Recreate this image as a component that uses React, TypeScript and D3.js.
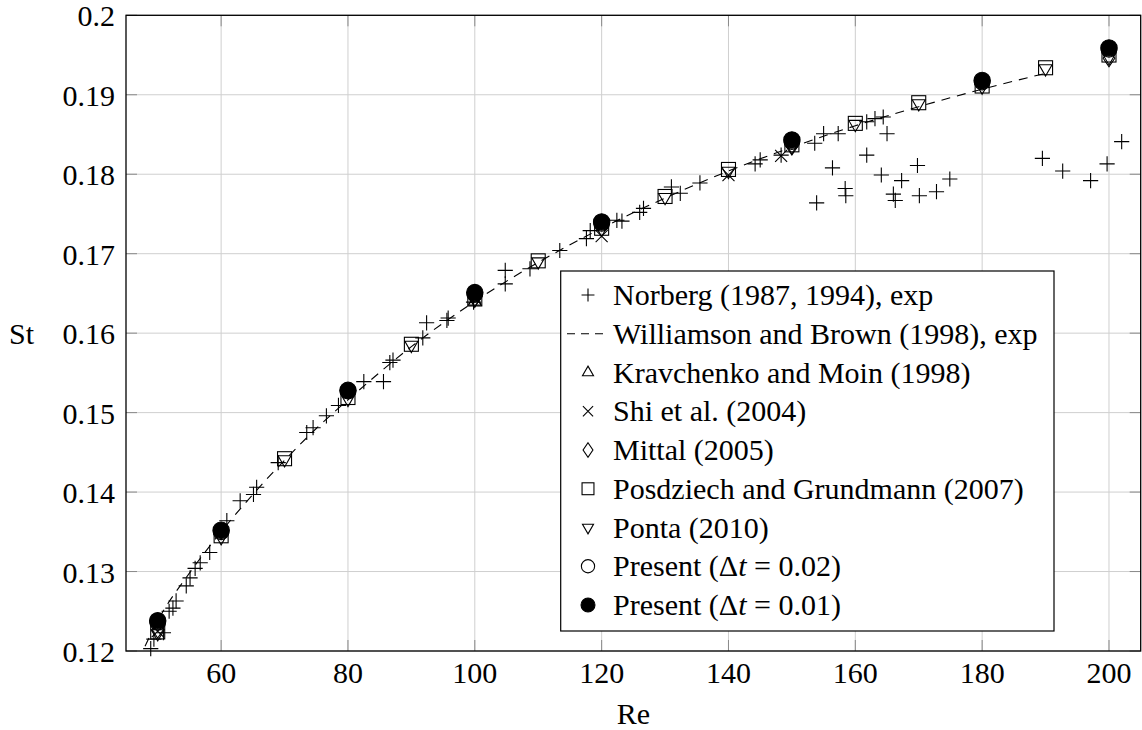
import React from "react";
import * as d3 from "d3";

// ---- Data ----
const norbergRe = [48.9, 49.4, 50.9, 51.8, 52.4, 52.9, 54.5, 55.1, 55.9, 56.7, 58.2, 60.9, 63.0, 65.1, 65.6, 69.0, 73.5, 74.5, 76.6, 78.5, 82.5, 85.6, 86.6, 87.1, 91.8, 92.4, 95.6, 95.8, 99.8, 104.8, 104.8, 108.7, 113.4, 117.6, 118.2, 122.4, 123.2, 126.0, 126.6, 131.0, 132.4, 135.5, 144.2, 145.0, 148.3, 153.6, 155.0, 157.3, 161.8, 163.1, 164.4, 165.0, 161.8, 156.4, 158.4, 158.5, 153.9, 164.1, 167.3, 166.0, 166.3, 169.8, 170.1, 172.8, 174.9, 189.5, 192.7, 197.1, 199.7, 202.0];
const norbergSt = [0.1203, 0.1215, 0.1223, 0.1250, 0.1254, 0.1263, 0.1282, 0.1292, 0.1304, 0.1311, 0.1324, 0.1364, 0.1389, 0.1397, 0.1406, 0.1437, 0.1475, 0.1481, 0.1496, 0.1509, 0.1539, 0.1539, 0.1563, 0.1566, 0.1594, 0.1613, 0.1616, 0.1619, 0.1639, 0.1679, 0.1662, 0.1681, 0.1704, 0.1719, 0.1729, 0.1742, 0.1741, 0.1752, 0.1757, 0.1784, 0.1776, 0.1789, 0.1813, 0.1818, 0.1824, 0.1839, 0.1851, 0.1851, 0.1866, 0.1870, 0.1872, 0.1851, 0.1824, 0.1808, 0.1782, 0.1773, 0.1764, 0.1799, 0.1792, 0.1775, 0.1767, 0.1811, 0.1773, 0.1778, 0.1794, 0.1820, 0.1804, 0.1792, 0.1813, 0.1841];

const williamsonRe = [48, 50, 55, 60, 65, 70, 75, 80, 90, 100, 110, 120, 130, 140, 150, 160, 170, 180, 190];
const williamsonSt = [0.1206, 0.1238, 0.1298, 0.1350, 0.1397, 0.1440, 0.1480, 0.1516, 0.1583, 0.1640, 0.1689, 0.1732, 0.1770, 0.1804, 0.1834, 0.1861, 0.1885, 0.1907, 0.1927];

const kravchenkoRe = [100];
const kravchenkoSt = [0.1640];

const shiRe = [50, 100, 120, 140, 148.3];
const shiSt = [0.1225, 0.1644, 0.1722, 0.1799, 0.1823];

const mittalRe = [50, 100, 150, 200];
const mittalSt = [0.1227, 0.1644, 0.1835, 0.1946];

const posdziechRe = [50, 60, 70, 80, 90, 100, 110, 120, 130, 140, 150, 160, 170, 180, 190, 200];
const posdziechSt = [0.1224, 0.1345, 0.1442, 0.1519, 0.1586, 0.1643, 0.1691, 0.1732, 0.1772, 0.1806, 0.1837, 0.1864, 0.1890, 0.1911, 0.1934, 0.1950];

const pontaRe = [50, 60, 70, 80, 90, 100, 110, 120, 130, 140, 150, 160, 170, 180, 190, 200];
const pontaSt = [0.1222, 0.1343, 0.1441, 0.1517, 0.1585, 0.1642, 0.1690, 0.1731, 0.1771, 0.1804, 0.1835, 0.1863, 0.1889, 0.1910, 0.1933, 0.1947];

const present02Re = [50, 60, 80, 100, 120, 150, 180, 200];
const present02St = [0.1236, 0.1350, 0.1527, 0.1649, 0.1738, 0.1841, 0.1916, 0.1957];

const present01Re = [50, 60, 80, 100, 120, 150, 180, 200];
const present01St = [0.1238, 0.1352, 0.1528, 0.1651, 0.1740, 0.1843, 0.1918, 0.1959];

const xTicks = [60, 80, 100, 120, 140, 160, 180, 200];
const yTicks = [0.12, 0.13, 0.14, 0.15, 0.16, 0.17, 0.18, 0.19, 0.2];
const yTickLabels = ["0.12", "0.13", "0.14", "0.15", "0.16", "0.17", "0.18", "0.19", "0.2"];

const legendLabels = [
  "Norberg (1987, 1994), exp",
  "Williamson and Brown (1998), exp",
  "Kravchenko and Moin (1998)",
  "Shi et al. (2004)",
  "Mittal (2005)",
  "Posdziech and Grundmann (2007)",
  "Ponta (2010)",
  "Present",
  "Present",
];

// ---- Layout ----
const W = 1142;
const H = 730;
const L = 126;
const R = 1140.7;
const T = 15.3;
const B = 651;
const FONT = '"Liberation Serif", "DejaVu Serif", "Noto Serif", FreeSerif, "Nimbus Roman", Tinos, serif';

const x = d3.scaleLinear().domain([45, 205]).range([L, R]);
const y = d3.scaleLinear().domain([0.12, 0.2]).range([B, T]);

type MType = "plus" | "times" | "tri" | "dia" | "sq" | "tridown" | "circ" | "fcirc";

function Marker({ t, cx, cy, s = 1 }: { t: MType; cx: number; cy: number; s?: number }) {
  const sw = 1.1;
  const common = { stroke: "#000", strokeWidth: sw, fill: "none" } as any;
  if (t === "plus") {
    const h = 7.6 * s;
    return <path d={`M${cx - h},${cy}H${cx + h}M${cx},${cy - h}V${cy + h}`} {...common} />;
  }
  if (t === "times") {
    const h = 6 * s;
    return <path d={`M${cx - h},${cy - h}L${cx + h},${cy + h}M${cx - h},${cy + h}L${cx + h},${cy - h}`} {...common} />;
  }
  if (t === "tri") {
    const r = 7.5 * s;
    return <path d={`M${cx},${cy - r}L${cx + 0.866 * r},${cy + 0.5 * r}L${cx - 0.866 * r},${cy + 0.5 * r}Z`} {...common} />;
  }
  if (t === "tridown") {
    const r = 7.5 * s;
    return <path d={`M${cx},${cy + r}L${cx + 0.866 * r},${cy - 0.5 * r}L${cx - 0.866 * r},${cy - 0.5 * r}Z`} {...common} />;
  }
  if (t === "dia") {
    const hw = 5.8 * s, hh = 8.5 * s;
    return <path d={`M${cx},${cy - hh}L${cx + hw},${cy}L${cx},${cy + hh}L${cx - hw},${cy}Z`} {...common} />;
  }
  if (t === "sq") {
    const h = 7 * s;
    return <rect x={cx - h} y={cy - h} width={2 * h} height={2 * h} {...common} />;
  }
  if (t === "circ") {
    return <circle cx={cx} cy={cy} r={7.8 * s} {...common} />;
  }
  return <circle cx={cx} cy={cy} r={8.2 * s} fill="#000" stroke="#000" strokeWidth={sw} />;
}

function Series({ re, st, t }: { re: number[]; st: number[]; t: MType }) {
  return (
    <g>
      {re.map((r, i) => (
        <Marker key={i} t={t} cx={x(r)} cy={y(st[i])} />
      ))}
    </g>
  );
}

export default function App() {
  const line = d3
    .line<number>()
    .x((d) => x(d))
    .y((_, i) => y(williamsonSt[i]))
    .curve(d3.curveMonotoneX);
  const legendTypes: (MType | "line")[] = ["plus", "line", "tri", "times", "dia", "sq", "tridown", "circ", "fcirc"];
  const LX = 560.7, LY = 271, LW = 493.3, LH = 360;
  const rowBase = (i: number) => 305 + i * 38.75;
  const tick = 11;
  const ts = { fontFamily: FONT } as React.CSSProperties;
  return (
    <svg width={W} height={H} style={{ position: "absolute", left: 0, top: 0, background: "#fff", fontFamily: FONT }}>
      <rect x={0} y={0} width={W} height={H} fill="#fff" />
      {/* grid */}
      <g stroke="#cfcfcf" strokeWidth={1}>
        {xTicks.map((v) => (
          <line key={"gx" + v} x1={x(v)} x2={x(v)} y1={T} y2={B} />
        ))}
        {yTicks.map((v) => (
          <line key={"gy" + v} x1={L} x2={R} y1={y(v)} y2={y(v)} />
        ))}
      </g>
      {/* ticks */}
      <g stroke="#8a8a8a" strokeWidth={1}>
        {xTicks.map((v) => (
          <g key={"tx" + v}>
            <line x1={x(v)} x2={x(v)} y1={B} y2={B - tick} />
            <line x1={x(v)} x2={x(v)} y1={T} y2={T + tick} />
          </g>
        ))}
        {yTicks.map((v) => (
          <g key={"ty" + v}>
            <line x1={L} x2={L + tick} y1={y(v)} y2={y(v)} />
            <line x1={R} x2={R - tick} y1={y(v)} y2={y(v)} />
          </g>
        ))}
      </g>
      {/* Williamson dashed line */}
      <path d={line(williamsonRe) || ""} fill="none" stroke="#000" strokeWidth={1.1} strokeDasharray="9,7" />
      <Series re={norbergRe} st={norbergSt} t="plus" />
      <Series re={kravchenkoRe} st={kravchenkoSt} t="tri" />
      <Series re={shiRe} st={shiSt} t="times" />
      <Series re={mittalRe} st={mittalSt} t="dia" />
      <Series re={posdziechRe} st={posdziechSt} t="sq" />
      <Series re={pontaRe} st={pontaSt} t="tridown" />
      <Series re={present02Re} st={present02St} t="circ" />
      <Series re={present01Re} st={present01St} t="fcirc" />
      {/* frame */}
      <rect x={L} y={T} width={R - L} height={B - T} fill="none" stroke="#000" strokeWidth={1.3} />
      {/* tick labels */}
      <g fontSize={30} fill="#000">
        {xTicks.map((v) => (
          <text key={"lx" + v} x={x(v)} y={683} textAnchor="middle" style={ts}>
            {v}
          </text>
        ))}
        {yTicks.map((v, i) => (
          <text key={"ly" + v} x={115} y={y(v) + 11} textAnchor="end" style={ts}>
            {yTickLabels[i]}
          </text>
        ))}
      </g>
      <text x={(L + R) / 2} y={724} fontSize={30} textAnchor="middle" style={ts}>Re</text>
      <text x={9} y={344} fontSize={30} style={ts}>St</text>
      {/* legend */}
      <rect x={LX} y={LY} width={LW} height={LH} fill="#fff" stroke="#000" strokeWidth={1.2} />
      {legendTypes.map((t, i) => {
        const by = rowBase(i);
        const cy = by - 10;
        return (
          <g key={"lg" + i}>
            {t === "line" ? (
              <line x1={567} x2={603} y1={cy} y2={cy} stroke="#000" strokeWidth={1.1} strokeDasharray="8,6" />
            ) : (
              <Marker t={t as MType} cx={588} cy={cy} s={0.85} />
            )}
            <text x={613} y={by} fontSize={30} style={ts}>
              {i < 7 ? (
                legendLabels[i]
              ) : (
                <>
                  {legendLabels[i]} (Δ<tspan fontStyle="italic">t</tspan> = {i === 7 ? "0.02" : "0.01"})
                </>
              )}
            </text>
          </g>
        );
      })}
    </svg>
  );
}
